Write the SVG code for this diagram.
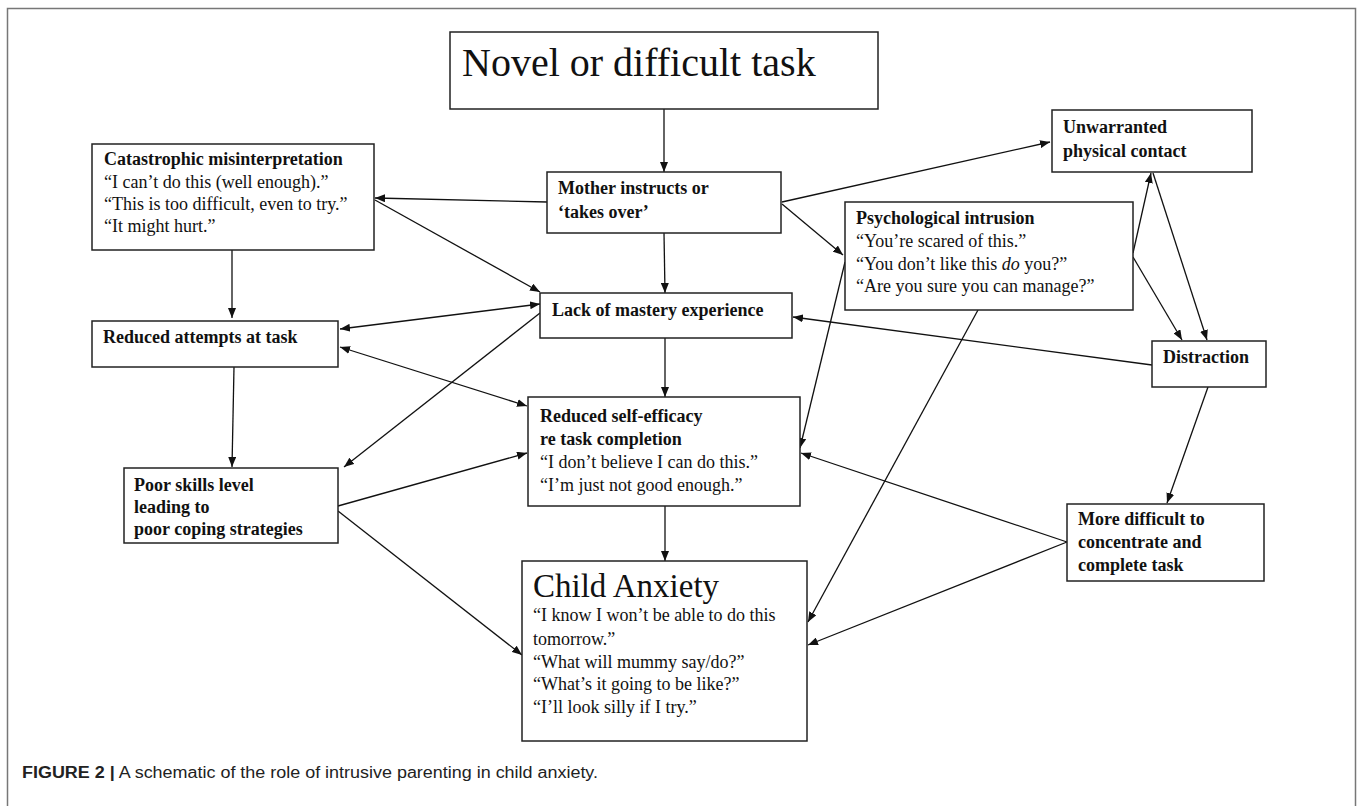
<svg xmlns="http://www.w3.org/2000/svg" width="1358" height="806" viewBox="0 0 1358 806">
<defs>
<marker id="ah" viewBox="0 0 10 8" refX="10" refY="4" markerWidth="10" markerHeight="8" orient="auto-start-reverse" markerUnits="userSpaceOnUse"><path d="M0,0 L10,4 L0,8 z" fill="#111"/></marker>
<style>
.box{fill:#fff;stroke:#222;stroke-width:1.5}
.t{font-family:"Liberation Serif","Times New Roman",serif;font-size:18px;fill:#111}
.b{font-weight:bold}
.c line{stroke:#111;stroke-width:1.3;marker-end:url(#ah)}
.c line.bi{marker-start:url(#ah)}
.cap{font-family:"Liberation Sans",Arial,sans-serif;font-size:16px;fill:#222}
</style>
</defs>
<rect width="1358" height="806" fill="#fff"/>
<path d="M7.5,820 V8.5 H1355.5 V820" fill="none" stroke="#777" stroke-width="1.5"/>

<g id="connectors" class="c">
<line x1="664" y1="109" x2="664" y2="172"/>
<line x1="664" y1="233" x2="665" y2="293"/>
<line x1="665" y1="338" x2="665" y2="397"/>
<line x1="665" y1="506" x2="665" y2="561"/>
<line x1="547" y1="202" x2="375" y2="198"/>
<line x1="375" y1="200" x2="540" y2="292"/>
<line x1="782" y1="202" x2="1050" y2="142"/>
<line x1="782" y1="204" x2="843" y2="255"/>
<line x1="232" y1="250" x2="232" y2="318"/>
<line x1="234" y1="367" x2="232" y2="467"/>
<line class="bi" x1="340" y1="329" x2="540" y2="304"/>
<line class="bi" x1="340" y1="347" x2="527" y2="406"/>
<line x1="540" y1="313" x2="344" y2="467"/>
<line x1="338" y1="506" x2="527" y2="453"/>
<line x1="338" y1="511" x2="522" y2="655"/>
<line x1="845" y1="262" x2="800" y2="448"/>
<line x1="978" y1="310" x2="808" y2="622"/>
<line x1="1133" y1="253" x2="1151" y2="173"/>
<line x1="1133" y1="257" x2="1182" y2="340"/>
<line x1="1153" y1="173" x2="1207" y2="340"/>
<line x1="1152" y1="365" x2="793" y2="317"/>
<line x1="1208" y1="387" x2="1167" y2="503"/>
<line x1="1067" y1="542" x2="801" y2="453"/>
<line x1="1067" y1="542" x2="808" y2="645"/>
</g>

<g id="novel">
<rect class="box" x="450" y="32" width="428" height="77"/>
<text class="t" x="462" y="76" style="font-size:40px">Novel or difficult task</text>
</g>
<g id="mother">
<rect class="box" x="547" y="172" width="234" height="61"/>
<text class="t b" x="558" y="194">Mother instructs or</text>
<text class="t b" x="558" y="218">‘takes over’</text>
</g>
<g id="catastrophic">
<rect class="box" x="92" y="144" width="282" height="106"/>
<text class="t b" x="104" y="165">Catastrophic misinterpretation</text>
<text class="t" x="104" y="188">“I can’t do this (well enough).”</text>
<text class="t" x="104" y="210">“This is too difficult, even to try.”</text>
<text class="t" x="104" y="232">“It might hurt.”</text>
</g>
<g id="unwarranted">
<rect class="box" x="1052" y="110" width="200" height="62"/>
<text class="t b" x="1063" y="133">Unwarranted</text>
<text class="t b" x="1063" y="157">physical contact</text>
</g>
<g id="psychological">
<rect class="box" x="845" y="202" width="288" height="108"/>
<text class="t b" x="856" y="224">Psychological intrusion</text>
<text class="t" x="856" y="247">“You’re scared of this.”</text>
<text class="t" x="856" y="270">“You don’t like this <tspan font-style="italic">do</tspan> you?”</text>
<text class="t" x="856" y="292">“Are you sure you can manage?”</text>
</g>
<g id="lack">
<rect class="box" x="540" y="293" width="252" height="45"/>
<text class="t b" x="552" y="316">Lack of mastery experience</text>
</g>
<g id="reduced-attempts">
<rect class="box" x="92" y="321" width="246" height="46"/>
<text class="t b" x="103" y="343">Reduced attempts at task</text>
</g>
<g id="distraction">
<rect class="box" x="1152" y="341" width="114" height="46"/>
<text class="t b" x="1163" y="363">Distraction</text>
</g>
<g id="self-efficacy">
<rect class="box" x="528" y="397" width="272" height="109"/>
<text class="t b" x="540" y="422">Reduced self-efficacy</text>
<text class="t b" x="540" y="445">re task completion</text>
<text class="t" x="540" y="468">“I don’t believe I can do this.”</text>
<text class="t" x="540" y="491">“I’m just not good enough.”</text>
</g>
<g id="poor-skills">
<rect class="box" x="124" y="468" width="214" height="75"/>
<text class="t b" x="134" y="491">Poor skills level</text>
<text class="t b" x="134" y="513">leading to</text>
<text class="t b" x="134" y="535">poor coping strategies</text>
</g>
<g id="more-difficult">
<rect class="box" x="1067" y="504" width="197" height="77"/>
<text class="t b" x="1078" y="525">More difficult to</text>
<text class="t b" x="1078" y="548">concentrate and</text>
<text class="t b" x="1078" y="571">complete task</text>
</g>
<g id="child-anxiety">
<rect class="box" x="522" y="561" width="285" height="180"/>
<text class="t" x="533" y="597" style="font-size:33px">Child Anxiety</text>
<text class="t" x="533" y="621">“I know I won’t be able to do this</text>
<text class="t" x="533" y="645">tomorrow.”</text>
<text class="t" x="533" y="668">“What will mummy say/do?”</text>
<text class="t" x="533" y="690">“What’s it going to be like?”</text>
<text class="t" x="533" y="713">“I’ll look silly if I try.”</text>
</g>
<text class="cap" x="22" y="778" textLength="576" lengthAdjust="spacingAndGlyphs"><tspan font-weight="bold">FIGURE 2 |</tspan> A schematic of the role of intrusive parenting in child anxiety.</text>
</svg>
